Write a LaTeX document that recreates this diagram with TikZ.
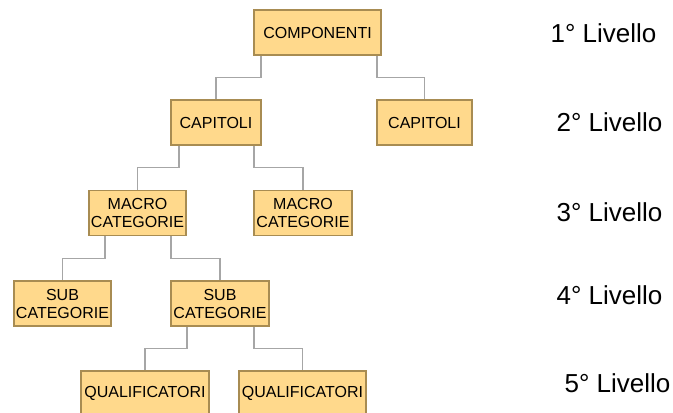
\documentclass[tikz,border=0pt]{standalone}
\usepackage{fontspec}
\setmainfont{Liberation Sans}
\usetikzlibrary{calc}
\definecolor{boxfill}{HTML}{FFD98C}
\definecolor{boxline}{HTML}{A88C52}
\definecolor{linkgray}{HTML}{A6A6A6}
\tikzset{
  box/.style={draw=boxline,fill=boxfill,line width=0.8pt,minimum height=33.75pt,
    inner sep=0pt,align=center,font=\fontsize{12}{13.5}\selectfont},
  link/.style={draw=linkgray,line width=0.8pt},
  lev/.style={font=\fontsize{19.5}{21}\selectfont}
}
\newcommand{\join}[3]{\draw[link] ($(#1.south)+(#2,0)$) |- ($($(#1.south)+(#2,0)$)!.5!(#3.north)$) -| (#3.north);}
\begin{document}
\begin{tikzpicture}[x=0.75pt,y=-0.75pt]
\useasboundingbox (0,0) rectangle (673,412);
\node [box,minimum width=95.25pt] (comp) at (317.5,32.5) {COMPONENTI};
\node [box,minimum width=67.5pt] (capa) at (216,122.5) {CAPITOLI};
\node [box,minimum width=71.25pt] (capb) at (424.5,122.5) {CAPITOLI};
\node [box,minimum width=72.75pt] (macroa) at (137.5,213) {MACRO\\CATEGORIE};
\node [box,minimum width=73.5pt] (macrob) at (303,213) {MACRO\\CATEGORIE};
\node [box,minimum width=72.75pt] (suba) at (62.5,303.5) {SUB\\CATEGORIE};
\node [box,minimum width=73.5pt] (subb) at (220,303.5) {SUB\\CATEGORIE};
\node [box,minimum width=96pt] (quala) at (145,393.5) {QUALIFICATORI};
\node [box,minimum width=95.25pt] (qualb) at (302.5,393.5) {QUALIFICATORI};
% connettori
\join{comp}{-56.5}{capa}
\join{comp}{59.5}{capb}
\join{capa}{-37}{macroa}
\join{capa}{38}{macrob}
\join{macroa}{-32.5}{suba}
\join{macroa}{33.5}{subb}
\join{subb}{-33}{quala}
\join{subb}{34}{qualb}
% livelli
\node [lev] (l1) at (603.5,33) {1° Livello};
\node [lev] (l2) at (609.5,122) {2° Livello};
\node [lev] (l3) at (609.5,212) {3° Livello};
\node [lev] (l4) at (609.5,295) {4° Livello};
\node [lev] (l5) at (617.5,383) {5° Livello};
\end{tikzpicture}
\end{document}
